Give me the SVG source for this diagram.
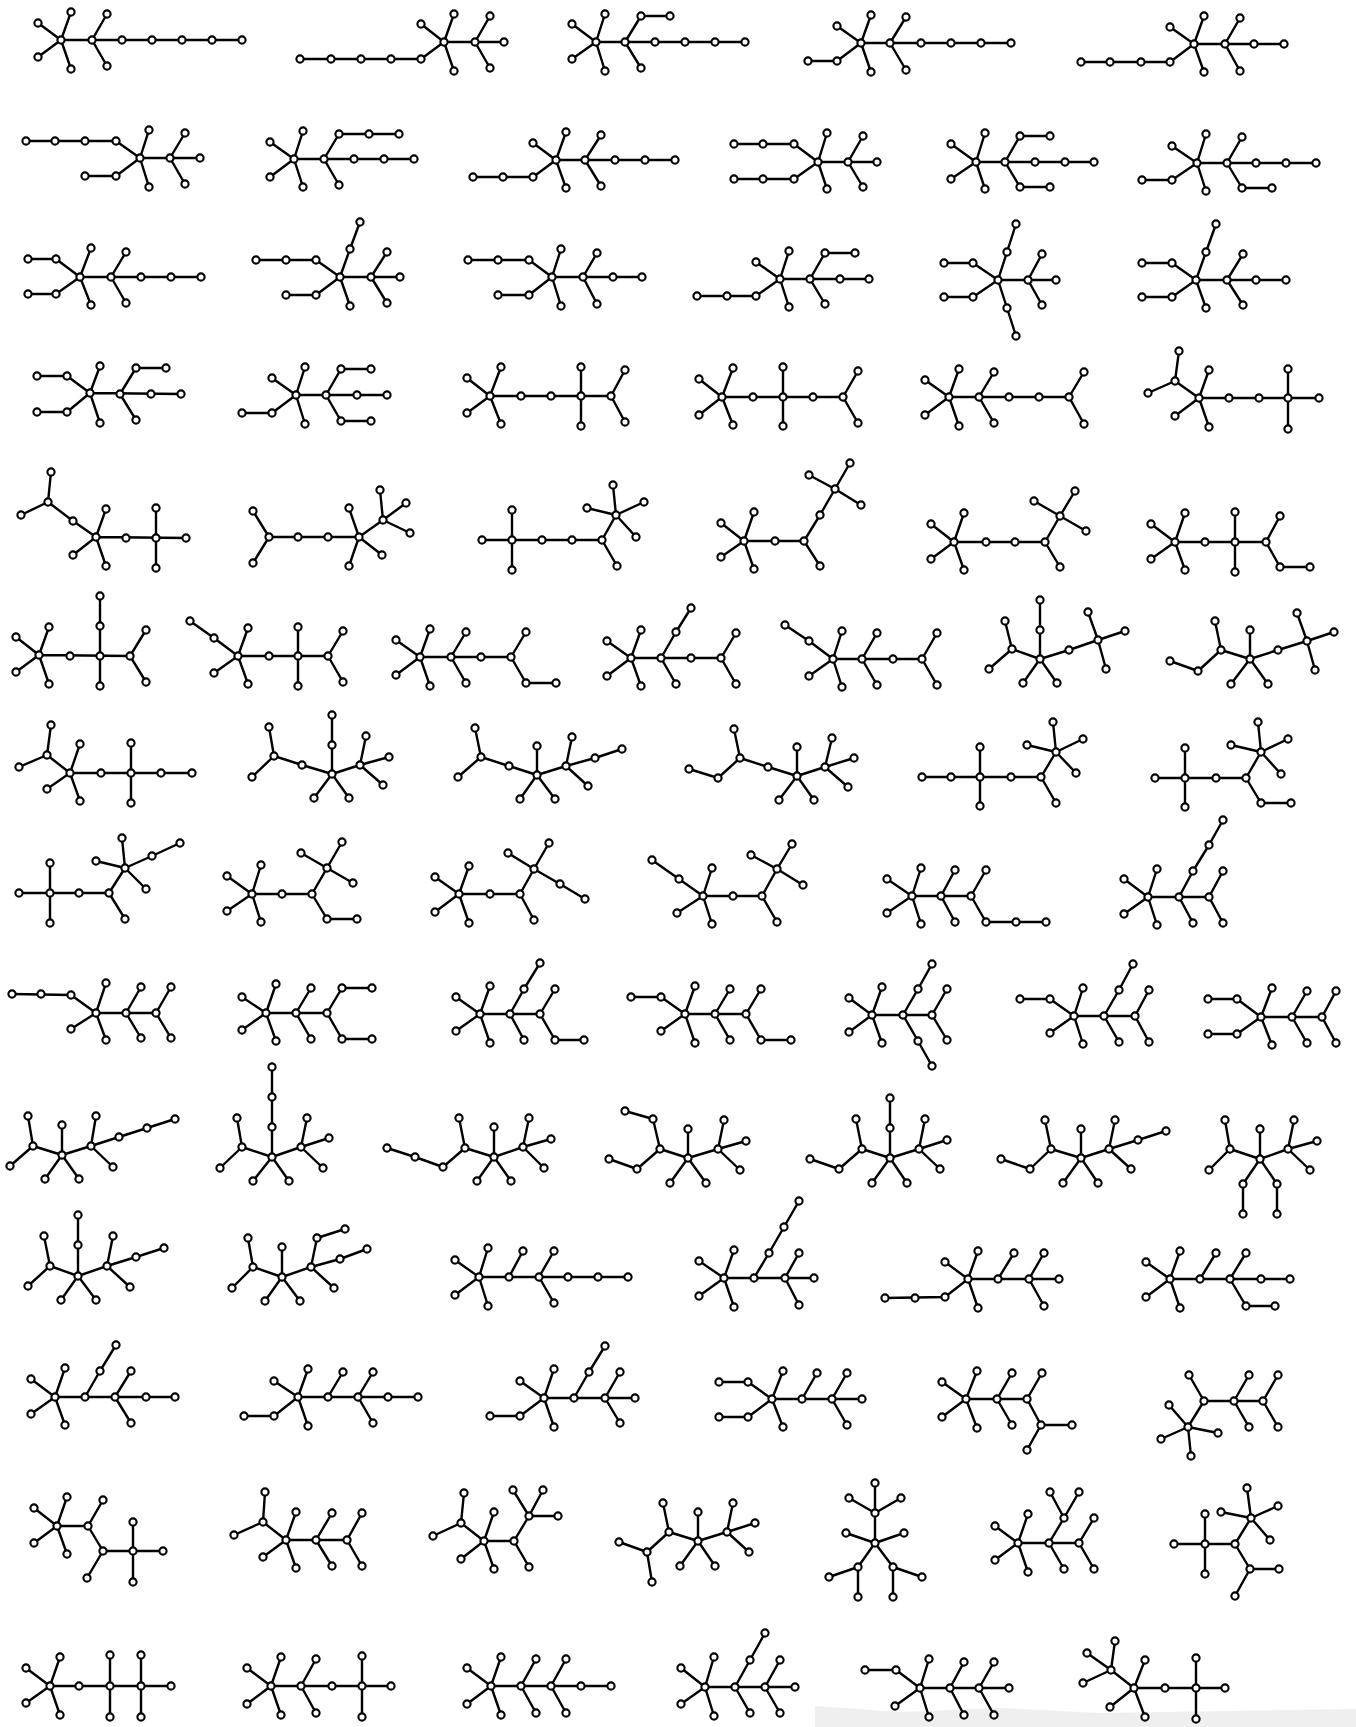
<svg xmlns="http://www.w3.org/2000/svg" width="1356" height="1727" viewBox="0 0 1356 1727">
<style>
.e path{fill:none;stroke:#000;stroke-width:2.4;stroke-linecap:round;stroke-linejoin:round}
.n circle{fill:#fff;stroke:#000;stroke-width:2.1}
</style>
<rect width="1356" height="1727" fill="#fff"/>
<polygon points="815,1706 900,1712 1000,1708 1100,1713 1356,1709 1356,1727 815,1727" fill="#d6d6d6" opacity="0.4"/>
<g id="connectors" class="e">
<path id="e1" d="M71 12 61 40 38 23 M38 57 61 40 71 69 M61 40 242 40 M107 14 92 40 107 66"/>
<path id="e2" d="M300 59 421 59 444 42 M454 14 444 42 454 71 M421 24 444 42 504 42 M490 16 475 42 490 68"/>
<path id="e3" d="M605 14 596 42 605 71 M572 24 596 42 572 59 M596 42 745 42 M670 16 641 16 625 42 641 68"/>
<path id="e4" d="M871 15 861 43 871 72 M837 26 861 43 1011 43 M808 61 837 61 861 43 M906 17 890 43 906 70"/>
<path id="e5" d="M1204 16 1194 44 1204 72 M1170 27 1194 44 1284 44 M1081 62 1170 62 1194 44 M1240 18 1225 44 1240 71"/>
<path id="e6" d="M26 141 116 141 140 158 200 158 M85 176 116 176 140 158 M149 130 140 158 149 187 M185 133 170 158 185 184"/>
<path id="e7" d="M303 131 294 159 303 187 M270 142 294 159 270 177 M294 159 414 159 M399 134 339 134 324 159 339 185"/>
<path id="e8" d="M566 132 556 160 566 188 M533 143 556 160 675 160 M473 177 533 177 556 160 M601 135 585 160 601 186"/>
<path id="e9" d="M734 144 794 144 818 162 877 162 M734 179 794 179 818 162 M827 133 818 162 827 189 M863 136 848 162 863 187"/>
<path id="e10" d="M985 133 976 162 985 189 M951 144 976 162 951 179 M976 162 1094 162 M1050 136 1020 136 1005 162 1020 187 1050 187"/>
<path id="e11" d="M1206 134 1197 163 1206 191 M1172 146 1197 163 1316 163 M1142 180 1172 180 1197 163 M1242 137 1227 163 1242 188 1272 188"/>
<path id="e12" d="M28 259 56 259 80 277 201 277 M28 294 56 294 80 277 M91 248 80 277 91 305 M126 252 111 277 126 303"/>
<path id="e13" d="M256 260 316 260 340 277 400 277 M286 295 316 295 340 277 350 306 M340 277 350 249 360 222 M387 252 371 277 387 303"/>
<path id="e14" d="M468 260 529 260 552 277 642 277 M498 295 529 295 552 277 M561 249 552 277 561 306 M597 253 583 277 597 304"/>
<path id="e15" d="M789 251 780 279 789 307 M756 262 780 279 869 279 M697 296 756 296 780 279 M855 253 825 253 810 279 825 304"/>
<path id="e16" d="M944 263 973 263 998 280 1056 280 M944 297 973 297 998 280 M1016 224 1007 252 998 280 1007 308 1016 336 M1042 254 1028 280 1042 305"/>
<path id="e17" d="M1142 263 1172 263 1196 280 1286 280 M1142 297 1172 297 1196 280 1206 308 M1196 280 1206 252 1216 224 M1243 254 1227 280 1243 305"/>
<path id="e18" d="M37 376 67 376 90 393 181 394 M37 412 67 412 90 393 M100 366 90 393 100 423 M166 368 136 368 120 394 136 420"/>
<path id="e19" d="M305 367 296 395 305 424 M272 378 296 395 387 395 M242 413 272 413 296 395 M371 369 341 369 326 395 341 421 371 421"/>
<path id="e20" d="M501 367 490 396 501 424 M467 378 490 396 467 413 M490 396 611 396 M581 367 581 426 M625 370 611 396 625 422"/>
<path id="e21" d="M733 368 722 397 733 425 M699 379 722 397 699 415 M722 397 843 397 M783 367 783 426 M858 371 843 397 858 423"/>
<path id="e22" d="M959 369 949 397 959 426 M925 380 949 397 925 415 M949 397 1069 397 M994 372 979 397 994 423 M1084 372 1069 397 1084 424"/>
<path id="e23" d="M1209 370 1199 398 1209 427 M1175 416 1199 398 1319 398 M1179 351 1175 381 1199 398 M1148 393 1175 381 M1288 369 1288 429"/>
<path id="e24" d="M51 472 48 502 21 515 M48 502 73 521 96 537 186 538 M106 509 96 537 106 566 M73 555 96 537 M156 508 156 568"/>
<path id="e25" d="M253 511 269 537 253 563 M269 537 359 537 349 508 M349 566 359 537 382 555 M359 537 383 520 380 490 M406 503 383 520 410 533"/>
<path id="e26" d="M482 540 602 540 617 566 M512 510 512 570 M602 540 616 515 613 485 M587 508 616 515 644 502 M616 515 636 537"/>
<path id="e27" d="M754 512 744 541 754 569 M721 523 744 541 721 557 M744 541 804 541 820 566 M804 541 820 515 835 489 809 475 M850 463 835 489 861 505"/>
<path id="e28" d="M964 513 954 542 964 570 M931 524 954 542 931 559 M954 542 1045 542 1060 567 M1045 542 1060 516 1034 501 M1075 491 1060 516 1086 531"/>
<path id="e29" d="M1185 513 1175 542 1185 570 M1151 524 1175 542 1151 559 M1175 542 1266 542 1280 516 M1235 512 1235 572 M1266 542 1280 567 1310 567"/>
<path id="e30" d="M49 627 39 655 49 684 M16 637 39 655 16 672 M39 655 130 656 M100 596 100 686 M146 630 130 656 146 682"/>
<path id="e31" d="M248 628 238 656 248 684 M214 673 238 656 214 638 190 621 M238 656 328 656 M298 627 298 686 M343 631 328 656 343 682"/>
<path id="e32" d="M430 629 420 657 430 686 M396 640 420 657 396 675 M420 657 511 657 526 632 M466 632 451 657 466 683 M511 657 526 683 556 683"/>
<path id="e33" d="M641 630 631 658 641 686 M607 641 631 658 607 676 M631 658 721 658 M691 608 676 632 661 658 676 684 M736 633 721 658 736 684"/>
<path id="e34" d="M842 631 833 659 842 687 M809 676 833 659 809 641 785 625 M833 659 922 659 M877 633 862 659 877 685 M937 633 922 659 937 685"/>
<path id="e35" d="M1040 600 1040 659 1023 683 M1040 659 1057 683 M1040 659 1012 649 1005 621 M1012 649 989 669 M1040 659 1069 650 1098 640 1088 612 M1125 631 1098 640 1106 669"/>
<path id="e36" d="M1250 630 1250 659 1231 684 M1250 659 1268 684 M1250 659 1221 650 1215 621 M1221 650 1198 671 1170 661 M1250 659 1278 650 1307 641 1297 613 M1334 632 1307 641 1315 670"/>
<path id="e37" d="M80 744 70 773 80 801 M47 789 70 773 47 755 51 725 M19 767 47 755 M70 773 192 773 M131 743 131 803"/>
<path id="e38" d="M332 715 332 774 314 798 M332 774 349 798 M332 774 302 765 274 756 269 727 M252 777 274 756 M332 774 360 765 366 736 M389 757 360 765 383 785"/>
<path id="e39" d="M537 746 537 775 520 799 M537 775 555 799 M537 775 509 766 481 757 475 728 M458 777 481 757 M537 775 566 766 572 737 M566 766 588 786 M566 766 595 758 622 749"/>
<path id="e40" d="M689 769 718 778 740 758 734 729 M740 758 768 767 797 776 797 747 M779 800 797 776 814 800 M797 776 825 767 832 738 M854 758 825 767 848 787"/>
<path id="e41" d="M922 777 1041 777 1056 803 M980 747 980 806 M1041 777 1056 752 1053 722 M1027 745 1056 752 1083 739 M1056 752 1076 773"/>
<path id="e42" d="M1155 778 1246 778 1261 803 1291 803 M1185 748 1185 807 M1246 778 1261 752 1258 722 M1231 745 1261 752 1288 739 M1261 752 1281 774"/>
<path id="e43" d="M19 893 109 893 125 919 M50 863 50 923 M109 893 125 868 122 838 M96 861 125 868 146 889 M125 868 152 856 180 843"/>
<path id="e44" d="M261 865 252 894 261 922 M227 876 252 894 227 911 M252 894 312 894 327 919 357 919 M312 894 327 868 342 842 M301 853 327 868 353 883"/>
<path id="e45" d="M469 866 459 894 469 923 M435 877 459 894 435 912 M459 894 520 894 534 920 M520 894 534 869 549 843 M508 853 534 869 560 884 585 899"/>
<path id="e46" d="M712 868 703 896 712 924 M677 913 703 896 679 879 652 860 M703 896 762 896 777 922 M762 896 777 869 792 844 M751 855 777 869 803 885"/>
<path id="e47" d="M921 868 912 896 921 924 M887 879 912 896 887 913 M912 896 971 896 986 870 M955 870 941 896 955 922 M971 896 986 922 1046 922"/>
<path id="e48" d="M1157 869 1148 897 1157 925 M1124 879 1148 897 1124 914 M1148 897 1209 897 1223 871 M1209 897 1223 923 M1223 820 1209 845 1193 871 1179 897 1193 923"/>
<path id="e49" d="M12 994 71 995 96 1013 156 1013 M106 983 96 1013 106 1040 M71 1029 96 1013 M141 987 126 1013 141 1038 M171 987 156 1013 171 1038"/>
<path id="e50" d="M276 984 266 1013 276 1041 M242 997 266 1013 242 1030 M266 1013 327 1013 M311 988 296 1013 311 1039 M372 988 342 988 327 1013 342 1039 372 1039"/>
<path id="e51" d="M490 986 480 1014 490 1043 M456 997 480 1014 456 1031 M480 1014 540 1014 555 989 M540 963 524 989 510 1014 524 1040 M540 1014 555 1040 584 1040"/>
<path id="e52" d="M631 997 661 997 685 1014 746 1014 761 989 M695 986 685 1014 695 1043 M661 1031 685 1014 M730 989 715 1014 730 1040 M746 1014 761 1040 791 1040"/>
<path id="e53" d="M882 987 872 1015 882 1043 M849 998 872 1015 849 1032 M872 1015 932 1015 M932 964 918 989 903 1015 918 1041 932 1066 M947 989 932 1015 947 1040"/>
<path id="e54" d="M1020 999 1050 999 1074 1016 1135 1016 M1083 988 1074 1016 1083 1044 M1050 1033 1074 1016 M1133 964 1119 990 1104 1016 1119 1042 M1149 990 1135 1016 1149 1042"/>
<path id="e55" d="M1208 999 1237 999 1261 1017 1322 1017 M1208 1034 1237 1034 1261 1017 M1272 988 1261 1017 1272 1045 M1307 991 1292 1017 1307 1043 M1336 991 1322 1017 1336 1043"/>
<path id="e56" d="M62 1125 62 1155 45 1179 M62 1155 79 1179 M10 1166 33 1146 28 1116 M33 1146 62 1155 91 1146 96 1116 M91 1146 113 1167 M91 1146 119 1137 147 1128 175 1119"/>
<path id="e57" d="M272 1067 272 1157 253 1181 M272 1157 289 1181 M220 1168 242 1147 237 1118 M242 1147 272 1157 301 1147 307 1118 M329 1138 301 1147 323 1168"/>
<path id="e58" d="M387 1148 415 1157 443 1167 465 1148 459 1118 M465 1148 494 1157 523 1147 529 1118 M494 1127 494 1157 477 1181 M494 1157 511 1181 M551 1139 523 1147 544 1168"/>
<path id="e59" d="M625 1111 653 1119 660 1149 637 1169 609 1159 M660 1149 688 1158 718 1149 724 1120 M688 1129 688 1158 670 1183 M688 1158 706 1183 M746 1141 718 1149 740 1170"/>
<path id="e60" d="M890 1098 890 1158 872 1183 M890 1158 907 1183 M810 1159 839 1169 862 1149 856 1119 M862 1149 890 1158 919 1149 925 1119 M947 1140 919 1149 940 1169"/>
<path id="e61" d="M1081 1129 1081 1158 1063 1183 M1081 1158 1098 1183 M1001 1159 1030 1169 1051 1149 1045 1120 M1051 1149 1081 1158 1109 1149 1115 1120 M1109 1149 1131 1169 M1109 1149 1138 1140 1166 1131"/>
<path id="e62" d="M1260 1129 1260 1159 1243 1184 1243 1214 M1260 1159 1277 1184 1277 1214 M1209 1170 1230 1149 1225 1120 M1230 1149 1260 1159 1288 1149 1294 1120 M1317 1141 1288 1149 1310 1170"/>
<path id="e63" d="M78 1215 78 1276 61 1300 M78 1276 96 1300 M28 1286 50 1266 44 1236 M50 1266 78 1276 107 1266 113 1236 M107 1266 130 1287 M107 1266 136 1257 164 1248"/>
<path id="e64" d="M282 1247 282 1277 265 1301 M282 1277 300 1301 M232 1288 253 1267 248 1238 M253 1267 282 1277 311 1267 317 1238 345 1229 M311 1267 340 1259 367 1249 M311 1267 334 1288"/>
<path id="e65" d="M488 1248 479 1277 488 1306 M455 1260 479 1277 455 1295 M479 1277 628 1277 M509 1277 523 1251 M554 1251 539 1277 554 1303"/>
<path id="e66" d="M734 1250 724 1278 734 1307 M699 1261 724 1278 699 1296 M724 1278 814 1278 M754 1278 769 1253 784 1227 799 1201 M799 1253 785 1278 799 1305"/>
<path id="e67" d="M885 1298 945 1297 968 1279 1059 1279 M978 1251 968 1279 978 1308 M945 1262 968 1279 M998 1279 1014 1253 M1044 1253 1029 1279 1044 1306"/>
<path id="e68" d="M1180 1251 1170 1279 1180 1308 M1146 1262 1170 1279 1146 1297 M1170 1279 1290 1279 M1200 1279 1216 1253 M1246 1253 1230 1279 1246 1306 1275 1306"/>
<path id="e69" d="M65 1368 55 1397 65 1425 M31 1379 55 1397 31 1414 M55 1397 175 1397 M85 1397 100 1371 116 1345 M131 1371 115 1397 131 1423"/>
<path id="e70" d="M244 1416 274 1416 298 1397 418 1397 M308 1369 298 1397 308 1426 M274 1381 298 1397 M328 1397 343 1372 M373 1372 358 1397 373 1423"/>
<path id="e71" d="M490 1416 520 1416 544 1398 635 1398 M554 1369 544 1398 554 1427 M520 1381 544 1398 M574 1398 589 1372 605 1346 M620 1372 605 1398 620 1423"/>
<path id="e72" d="M719 1382 748 1382 772 1399 862 1399 M719 1417 748 1417 772 1399 M783 1371 772 1399 783 1427 M802 1399 817 1373 M847 1373 832 1399 847 1425"/>
<path id="e73" d="M977 1371 966 1399 977 1428 M942 1382 966 1399 942 1417 M966 1399 1027 1399 1042 1373 M1012 1373 997 1399 1012 1425 M1027 1399 1041 1425 1072 1425 M1041 1425 1027 1450"/>
<path id="e74" d="M1169 1405 1188 1427 1191 1456 M1161 1439 1188 1427 1218 1433 M1188 1427 1204 1401 1189 1375 M1204 1401 1263 1401 M1249 1375 1234 1401 1249 1427 M1278 1375 1263 1401 1278 1427"/>
<path id="e75" d="M67 1497 57 1526 67 1554 M34 1508 57 1526 34 1543 M57 1526 88 1526 103 1500 M88 1526 103 1551 163 1551 M103 1551 87 1578 M133 1522 133 1582"/>
<path id="e76" d="M265 1492 263 1522 234 1535 M263 1522 286 1540 347 1540 M296 1512 286 1540 296 1568 M263 1557 286 1540 M332 1513 316 1540 332 1566 M362 1513 347 1540 362 1566"/>
<path id="e77" d="M464 1493 461 1523 433 1536 M461 1523 484 1541 514 1541 529 1567 M494 1512 484 1541 494 1569 M461 1559 484 1541 M514 1541 529 1516 513 1490 M543 1490 529 1516 558 1516"/>
<path id="e78" d="M619 1542 647 1552 652 1582 M647 1552 669 1532 663 1503 M669 1532 698 1541 727 1532 733 1503 M698 1512 698 1541 680 1566 M698 1541 715 1566 M755 1523 727 1532 749 1552"/>
<path id="e79" d="M875 1483 875 1543 M849 1498 875 1513 901 1498 M846 1533 875 1543 904 1533 M829 1577 858 1567 875 1543 893 1567 922 1577 M858 1567 858 1597 M893 1567 893 1597"/>
<path id="e80" d="M1028 1514 1018 1543 1028 1572 M995 1526 1018 1543 995 1560 M1018 1543 1079 1543 M1049 1543 1064 1569 M1049 1543 1064 1518 1050 1492 M1064 1518 1079 1492 M1094 1518 1079 1543 1094 1569"/>
<path id="e81" d="M1174 1544 1235 1544 1251 1518 1247 1488 M1205 1514 1205 1574 M1221 1512 1251 1518 1278 1506 M1251 1518 1270 1540 M1235 1544 1250 1569 1279 1569 M1250 1569 1235 1596"/>
<path id="e82" d="M60 1657 50 1686 60 1715 M26 1668 50 1686 26 1703 M50 1686 171 1686 M110 1655 110 1717 M141 1655 141 1717"/>
<path id="e83" d="M281 1657 271 1686 281 1715 M247 1668 271 1686 247 1704 M271 1686 391 1686 M316 1659 301 1686 316 1713 M362 1656 362 1717"/>
<path id="e84" d="M501 1657 491 1686 501 1715 M467 1668 491 1686 467 1704 M491 1686 611 1686 M536 1659 521 1686 536 1713 M566 1659 551 1686 566 1713"/>
<path id="e85" d="M714 1657 705 1687 714 1716 M681 1668 705 1687 681 1704 M705 1687 795 1687 M765 1633 750 1660 735 1687 750 1713 M780 1660 765 1687 780 1713"/>
<path id="e86" d="M865 1670 896 1670 920 1688 1009 1688 M929 1659 920 1688 929 1717 M895 1706 920 1688 M964 1662 950 1688 964 1715 M994 1662 979 1688 994 1715"/>
<path id="e87" d="M1115 1641 1111 1670 1087 1653 M1083 1683 1111 1670 1134 1688 1225 1688 M1145 1660 1134 1688 1145 1717 M1110 1707 1134 1688 M1196 1658 1196 1719"/>
</g>
<g id="nodes" class="n">
<g id="t1"><circle cx="61" cy="40" r="3.6"/><circle cx="92" cy="40" r="3.6"/><circle cx="71" cy="12" r="3.6"/><circle cx="38" cy="23" r="3.6"/><circle cx="38" cy="57" r="3.6"/><circle cx="71" cy="69" r="3.6"/><circle cx="107" cy="14" r="3.6"/><circle cx="107" cy="66" r="3.6"/><circle cx="122" cy="40" r="3.6"/><circle cx="152" cy="40" r="3.6"/><circle cx="182" cy="40" r="3.6"/><circle cx="212" cy="40" r="3.6"/><circle cx="242" cy="40" r="3.6"/></g>
<g id="t2"><circle cx="300" cy="59" r="3.6"/><circle cx="331" cy="59" r="3.6"/><circle cx="361" cy="59" r="3.6"/><circle cx="391" cy="59" r="3.6"/><circle cx="421" cy="59" r="3.6"/><circle cx="444" cy="42" r="3.6"/><circle cx="454" cy="14" r="3.6"/><circle cx="421" cy="24" r="3.6"/><circle cx="454" cy="71" r="3.6"/><circle cx="475" cy="42" r="3.6"/><circle cx="490" cy="16" r="3.6"/><circle cx="504" cy="42" r="3.6"/><circle cx="490" cy="68" r="3.6"/></g>
<g id="t3"><circle cx="596" cy="42" r="3.6"/><circle cx="605" cy="14" r="3.6"/><circle cx="572" cy="24" r="3.6"/><circle cx="572" cy="59" r="3.6"/><circle cx="605" cy="71" r="3.6"/><circle cx="625" cy="42" r="3.6"/><circle cx="641" cy="16" r="3.6"/><circle cx="670" cy="16" r="3.6"/><circle cx="641" cy="68" r="3.6"/><circle cx="655" cy="42" r="3.6"/><circle cx="685" cy="42" r="3.6"/><circle cx="715" cy="42" r="3.6"/><circle cx="745" cy="42" r="3.6"/></g>
<g id="t4"><circle cx="861" cy="43" r="3.6"/><circle cx="871" cy="15" r="3.6"/><circle cx="837" cy="26" r="3.6"/><circle cx="871" cy="72" r="3.6"/><circle cx="837" cy="61" r="3.6"/><circle cx="808" cy="61" r="3.6"/><circle cx="890" cy="43" r="3.6"/><circle cx="906" cy="17" r="3.6"/><circle cx="906" cy="70" r="3.6"/><circle cx="921" cy="43" r="3.6"/><circle cx="951" cy="43" r="3.6"/><circle cx="981" cy="43" r="3.6"/><circle cx="1011" cy="43" r="3.6"/></g>
<g id="t5"><circle cx="1194" cy="44" r="3.6"/><circle cx="1204" cy="16" r="3.6"/><circle cx="1170" cy="27" r="3.6"/><circle cx="1204" cy="72" r="3.6"/><circle cx="1170" cy="62" r="3.6"/><circle cx="1141" cy="62" r="3.6"/><circle cx="1110" cy="62" r="3.6"/><circle cx="1081" cy="62" r="3.6"/><circle cx="1225" cy="44" r="3.6"/><circle cx="1240" cy="18" r="3.6"/><circle cx="1240" cy="71" r="3.6"/><circle cx="1254" cy="44" r="3.6"/><circle cx="1284" cy="44" r="3.6"/></g>
<g id="t6"><circle cx="26" cy="141" r="3.6"/><circle cx="55" cy="141" r="3.6"/><circle cx="85" cy="141" r="3.6"/><circle cx="116" cy="141" r="3.6"/><circle cx="140" cy="158" r="3.6"/><circle cx="149" cy="130" r="3.6"/><circle cx="149" cy="187" r="3.6"/><circle cx="116" cy="176" r="3.6"/><circle cx="85" cy="176" r="3.6"/><circle cx="170" cy="158" r="3.6"/><circle cx="185" cy="133" r="3.6"/><circle cx="200" cy="158" r="3.6"/><circle cx="185" cy="184" r="3.6"/></g>
<g id="t7"><circle cx="294" cy="159" r="3.6"/><circle cx="303" cy="131" r="3.6"/><circle cx="270" cy="142" r="3.6"/><circle cx="270" cy="177" r="3.6"/><circle cx="303" cy="187" r="3.6"/><circle cx="324" cy="159" r="3.6"/><circle cx="339" cy="134" r="3.6"/><circle cx="369" cy="134" r="3.6"/><circle cx="399" cy="134" r="3.6"/><circle cx="354" cy="159" r="3.6"/><circle cx="384" cy="159" r="3.6"/><circle cx="414" cy="159" r="3.6"/><circle cx="339" cy="185" r="3.6"/></g>
<g id="t8"><circle cx="556" cy="160" r="3.6"/><circle cx="566" cy="132" r="3.6"/><circle cx="533" cy="143" r="3.6"/><circle cx="566" cy="188" r="3.6"/><circle cx="533" cy="177" r="3.6"/><circle cx="503" cy="177" r="3.6"/><circle cx="473" cy="177" r="3.6"/><circle cx="585" cy="160" r="3.6"/><circle cx="601" cy="135" r="3.6"/><circle cx="601" cy="186" r="3.6"/><circle cx="615" cy="160" r="3.6"/><circle cx="645" cy="160" r="3.6"/><circle cx="675" cy="160" r="3.6"/></g>
<g id="t9"><circle cx="818" cy="162" r="3.6"/><circle cx="794" cy="144" r="3.6"/><circle cx="763" cy="144" r="3.6"/><circle cx="734" cy="144" r="3.6"/><circle cx="794" cy="179" r="3.6"/><circle cx="763" cy="179" r="3.6"/><circle cx="734" cy="179" r="3.6"/><circle cx="827" cy="133" r="3.6"/><circle cx="827" cy="189" r="3.6"/><circle cx="848" cy="162" r="3.6"/><circle cx="863" cy="136" r="3.6"/><circle cx="877" cy="162" r="3.6"/><circle cx="863" cy="187" r="3.6"/></g>
<g id="t10"><circle cx="976" cy="162" r="3.6"/><circle cx="985" cy="133" r="3.6"/><circle cx="951" cy="144" r="3.6"/><circle cx="951" cy="179" r="3.6"/><circle cx="985" cy="189" r="3.6"/><circle cx="1005" cy="162" r="3.6"/><circle cx="1020" cy="136" r="3.6"/><circle cx="1050" cy="136" r="3.6"/><circle cx="1035" cy="162" r="3.6"/><circle cx="1065" cy="162" r="3.6"/><circle cx="1094" cy="162" r="3.6"/><circle cx="1020" cy="187" r="3.6"/><circle cx="1050" cy="187" r="3.6"/></g>
<g id="t11"><circle cx="1197" cy="163" r="3.6"/><circle cx="1206" cy="134" r="3.6"/><circle cx="1172" cy="146" r="3.6"/><circle cx="1206" cy="191" r="3.6"/><circle cx="1172" cy="180" r="3.6"/><circle cx="1142" cy="180" r="3.6"/><circle cx="1227" cy="163" r="3.6"/><circle cx="1242" cy="137" r="3.6"/><circle cx="1256" cy="163" r="3.6"/><circle cx="1286" cy="163" r="3.6"/><circle cx="1316" cy="163" r="3.6"/><circle cx="1242" cy="188" r="3.6"/><circle cx="1272" cy="188" r="3.6"/></g>
<g id="t12"><circle cx="80" cy="277" r="3.6"/><circle cx="56" cy="259" r="3.6"/><circle cx="28" cy="259" r="3.6"/><circle cx="56" cy="294" r="3.6"/><circle cx="28" cy="294" r="3.6"/><circle cx="91" cy="248" r="3.6"/><circle cx="91" cy="305" r="3.6"/><circle cx="111" cy="277" r="3.6"/><circle cx="126" cy="252" r="3.6"/><circle cx="126" cy="303" r="3.6"/><circle cx="141" cy="277" r="3.6"/><circle cx="171" cy="277" r="3.6"/><circle cx="201" cy="277" r="3.6"/></g>
<g id="t13"><circle cx="340" cy="277" r="3.6"/><circle cx="316" cy="260" r="3.6"/><circle cx="286" cy="260" r="3.6"/><circle cx="256" cy="260" r="3.6"/><circle cx="316" cy="295" r="3.6"/><circle cx="286" cy="295" r="3.6"/><circle cx="350" cy="249" r="3.6"/><circle cx="360" cy="222" r="3.6"/><circle cx="350" cy="306" r="3.6"/><circle cx="371" cy="277" r="3.6"/><circle cx="387" cy="252" r="3.6"/><circle cx="400" cy="277" r="3.6"/><circle cx="387" cy="303" r="3.6"/></g>
<g id="t14"><circle cx="552" cy="277" r="3.6"/><circle cx="529" cy="260" r="3.6"/><circle cx="498" cy="260" r="3.6"/><circle cx="468" cy="260" r="3.6"/><circle cx="529" cy="295" r="3.6"/><circle cx="498" cy="295" r="3.6"/><circle cx="561" cy="249" r="3.6"/><circle cx="561" cy="306" r="3.6"/><circle cx="583" cy="277" r="3.6"/><circle cx="597" cy="253" r="3.6"/><circle cx="597" cy="304" r="3.6"/><circle cx="613" cy="277" r="3.6"/><circle cx="642" cy="277" r="3.6"/></g>
<g id="t15"><circle cx="780" cy="279" r="3.6"/><circle cx="789" cy="251" r="3.6"/><circle cx="756" cy="262" r="3.6"/><circle cx="789" cy="307" r="3.6"/><circle cx="756" cy="296" r="3.6"/><circle cx="727" cy="296" r="3.6"/><circle cx="697" cy="296" r="3.6"/><circle cx="810" cy="279" r="3.6"/><circle cx="825" cy="253" r="3.6"/><circle cx="855" cy="253" r="3.6"/><circle cx="840" cy="279" r="3.6"/><circle cx="869" cy="279" r="3.6"/><circle cx="825" cy="304" r="3.6"/></g>
<g id="t16"><circle cx="998" cy="280" r="3.6"/><circle cx="973" cy="263" r="3.6"/><circle cx="944" cy="263" r="3.6"/><circle cx="973" cy="297" r="3.6"/><circle cx="944" cy="297" r="3.6"/><circle cx="1007" cy="252" r="3.6"/><circle cx="1016" cy="224" r="3.6"/><circle cx="1007" cy="308" r="3.6"/><circle cx="1016" cy="336" r="3.6"/><circle cx="1028" cy="280" r="3.6"/><circle cx="1042" cy="254" r="3.6"/><circle cx="1056" cy="280" r="3.6"/><circle cx="1042" cy="305" r="3.6"/></g>
<g id="t17"><circle cx="1196" cy="280" r="3.6"/><circle cx="1172" cy="263" r="3.6"/><circle cx="1142" cy="263" r="3.6"/><circle cx="1172" cy="297" r="3.6"/><circle cx="1142" cy="297" r="3.6"/><circle cx="1206" cy="252" r="3.6"/><circle cx="1216" cy="224" r="3.6"/><circle cx="1206" cy="308" r="3.6"/><circle cx="1227" cy="280" r="3.6"/><circle cx="1243" cy="254" r="3.6"/><circle cx="1243" cy="305" r="3.6"/><circle cx="1256" cy="280" r="3.6"/><circle cx="1286" cy="280" r="3.6"/></g>
<g id="t18"><circle cx="90" cy="393" r="3.6"/><circle cx="67" cy="376" r="3.6"/><circle cx="37" cy="376" r="3.6"/><circle cx="67" cy="412" r="3.6"/><circle cx="37" cy="412" r="3.6"/><circle cx="100" cy="366" r="3.6"/><circle cx="100" cy="423" r="3.6"/><circle cx="120" cy="394" r="3.6"/><circle cx="136" cy="368" r="3.6"/><circle cx="166" cy="368" r="3.6"/><circle cx="151" cy="394" r="3.6"/><circle cx="181" cy="394" r="3.6"/><circle cx="136" cy="420" r="3.6"/></g>
<g id="t19"><circle cx="296" cy="395" r="3.6"/><circle cx="305" cy="367" r="3.6"/><circle cx="272" cy="378" r="3.6"/><circle cx="305" cy="424" r="3.6"/><circle cx="272" cy="413" r="3.6"/><circle cx="242" cy="413" r="3.6"/><circle cx="326" cy="395" r="3.6"/><circle cx="341" cy="369" r="3.6"/><circle cx="371" cy="369" r="3.6"/><circle cx="357" cy="395" r="3.6"/><circle cx="387" cy="395" r="3.6"/><circle cx="341" cy="421" r="3.6"/><circle cx="371" cy="421" r="3.6"/></g>
<g id="t20"><circle cx="490" cy="396" r="3.6"/><circle cx="501" cy="367" r="3.6"/><circle cx="467" cy="378" r="3.6"/><circle cx="467" cy="413" r="3.6"/><circle cx="501" cy="424" r="3.6"/><circle cx="521" cy="396" r="3.6"/><circle cx="551" cy="396" r="3.6"/><circle cx="581" cy="396" r="3.6"/><circle cx="581" cy="367" r="3.6"/><circle cx="581" cy="426" r="3.6"/><circle cx="611" cy="396" r="3.6"/><circle cx="625" cy="370" r="3.6"/><circle cx="625" cy="422" r="3.6"/></g>
<g id="t21"><circle cx="722" cy="397" r="3.6"/><circle cx="733" cy="368" r="3.6"/><circle cx="699" cy="379" r="3.6"/><circle cx="699" cy="415" r="3.6"/><circle cx="733" cy="425" r="3.6"/><circle cx="753" cy="397" r="3.6"/><circle cx="783" cy="397" r="3.6"/><circle cx="783" cy="367" r="3.6"/><circle cx="783" cy="426" r="3.6"/><circle cx="813" cy="397" r="3.6"/><circle cx="843" cy="397" r="3.6"/><circle cx="858" cy="371" r="3.6"/><circle cx="858" cy="423" r="3.6"/></g>
<g id="t22"><circle cx="949" cy="397" r="3.6"/><circle cx="959" cy="369" r="3.6"/><circle cx="925" cy="380" r="3.6"/><circle cx="925" cy="415" r="3.6"/><circle cx="959" cy="426" r="3.6"/><circle cx="979" cy="397" r="3.6"/><circle cx="994" cy="372" r="3.6"/><circle cx="994" cy="423" r="3.6"/><circle cx="1009" cy="397" r="3.6"/><circle cx="1039" cy="397" r="3.6"/><circle cx="1069" cy="397" r="3.6"/><circle cx="1084" cy="372" r="3.6"/><circle cx="1084" cy="424" r="3.6"/></g>
<g id="t23"><circle cx="1199" cy="398" r="3.6"/><circle cx="1209" cy="370" r="3.6"/><circle cx="1175" cy="416" r="3.6"/><circle cx="1209" cy="427" r="3.6"/><circle cx="1175" cy="381" r="3.6"/><circle cx="1179" cy="351" r="3.6"/><circle cx="1148" cy="393" r="3.6"/><circle cx="1229" cy="398" r="3.6"/><circle cx="1259" cy="398" r="3.6"/><circle cx="1288" cy="398" r="3.6"/><circle cx="1288" cy="369" r="3.6"/><circle cx="1288" cy="429" r="3.6"/><circle cx="1319" cy="398" r="3.6"/></g>
<g id="t24"><circle cx="51" cy="472" r="3.6"/><circle cx="48" cy="502" r="3.6"/><circle cx="21" cy="515" r="3.6"/><circle cx="73" cy="521" r="3.6"/><circle cx="96" cy="537" r="3.6"/><circle cx="106" cy="509" r="3.6"/><circle cx="73" cy="555" r="3.6"/><circle cx="106" cy="566" r="3.6"/><circle cx="126" cy="538" r="3.6"/><circle cx="156" cy="538" r="3.6"/><circle cx="156" cy="508" r="3.6"/><circle cx="156" cy="568" r="3.6"/><circle cx="186" cy="538" r="3.6"/></g>
<g id="t25"><circle cx="269" cy="537" r="3.6"/><circle cx="253" cy="511" r="3.6"/><circle cx="253" cy="563" r="3.6"/><circle cx="298" cy="537" r="3.6"/><circle cx="328" cy="537" r="3.6"/><circle cx="359" cy="537" r="3.6"/><circle cx="349" cy="508" r="3.6"/><circle cx="349" cy="566" r="3.6"/><circle cx="382" cy="555" r="3.6"/><circle cx="383" cy="520" r="3.6"/><circle cx="380" cy="490" r="3.6"/><circle cx="406" cy="503" r="3.6"/><circle cx="410" cy="533" r="3.6"/></g>
<g id="t26"><circle cx="512" cy="540" r="3.6"/><circle cx="512" cy="510" r="3.6"/><circle cx="512" cy="570" r="3.6"/><circle cx="482" cy="540" r="3.6"/><circle cx="542" cy="540" r="3.6"/><circle cx="572" cy="540" r="3.6"/><circle cx="602" cy="540" r="3.6"/><circle cx="617" cy="566" r="3.6"/><circle cx="616" cy="515" r="3.6"/><circle cx="613" cy="485" r="3.6"/><circle cx="587" cy="508" r="3.6"/><circle cx="644" cy="502" r="3.6"/><circle cx="636" cy="537" r="3.6"/></g>
<g id="t27"><circle cx="744" cy="541" r="3.6"/><circle cx="754" cy="512" r="3.6"/><circle cx="721" cy="523" r="3.6"/><circle cx="721" cy="557" r="3.6"/><circle cx="754" cy="569" r="3.6"/><circle cx="775" cy="541" r="3.6"/><circle cx="804" cy="541" r="3.6"/><circle cx="820" cy="566" r="3.6"/><circle cx="820" cy="515" r="3.6"/><circle cx="835" cy="489" r="3.6"/><circle cx="809" cy="475" r="3.6"/><circle cx="850" cy="463" r="3.6"/><circle cx="861" cy="505" r="3.6"/></g>
<g id="t28"><circle cx="954" cy="542" r="3.6"/><circle cx="964" cy="513" r="3.6"/><circle cx="931" cy="524" r="3.6"/><circle cx="931" cy="559" r="3.6"/><circle cx="964" cy="570" r="3.6"/><circle cx="986" cy="542" r="3.6"/><circle cx="1015" cy="542" r="3.6"/><circle cx="1045" cy="542" r="3.6"/><circle cx="1060" cy="567" r="3.6"/><circle cx="1060" cy="516" r="3.6"/><circle cx="1034" cy="501" r="3.6"/><circle cx="1075" cy="491" r="3.6"/><circle cx="1086" cy="531" r="3.6"/></g>
<g id="t29"><circle cx="1175" cy="542" r="3.6"/><circle cx="1185" cy="513" r="3.6"/><circle cx="1151" cy="524" r="3.6"/><circle cx="1151" cy="559" r="3.6"/><circle cx="1185" cy="570" r="3.6"/><circle cx="1205" cy="542" r="3.6"/><circle cx="1235" cy="542" r="3.6"/><circle cx="1235" cy="512" r="3.6"/><circle cx="1235" cy="572" r="3.6"/><circle cx="1266" cy="542" r="3.6"/><circle cx="1280" cy="516" r="3.6"/><circle cx="1280" cy="567" r="3.6"/><circle cx="1310" cy="567" r="3.6"/></g>
<g id="t30"><circle cx="39" cy="655" r="3.6"/><circle cx="49" cy="627" r="3.6"/><circle cx="16" cy="637" r="3.6"/><circle cx="16" cy="672" r="3.6"/><circle cx="49" cy="684" r="3.6"/><circle cx="70" cy="656" r="3.6"/><circle cx="100" cy="656" r="3.6"/><circle cx="100" cy="626" r="3.6"/><circle cx="100" cy="596" r="3.6"/><circle cx="100" cy="686" r="3.6"/><circle cx="130" cy="656" r="3.6"/><circle cx="146" cy="630" r="3.6"/><circle cx="146" cy="682" r="3.6"/></g>
<g id="t31"><circle cx="238" cy="656" r="3.6"/><circle cx="248" cy="628" r="3.6"/><circle cx="214" cy="673" r="3.6"/><circle cx="248" cy="684" r="3.6"/><circle cx="214" cy="638" r="3.6"/><circle cx="190" cy="621" r="3.6"/><circle cx="269" cy="656" r="3.6"/><circle cx="298" cy="656" r="3.6"/><circle cx="298" cy="627" r="3.6"/><circle cx="298" cy="686" r="3.6"/><circle cx="328" cy="656" r="3.6"/><circle cx="343" cy="631" r="3.6"/><circle cx="343" cy="682" r="3.6"/></g>
<g id="t32"><circle cx="420" cy="657" r="3.6"/><circle cx="430" cy="629" r="3.6"/><circle cx="396" cy="640" r="3.6"/><circle cx="396" cy="675" r="3.6"/><circle cx="430" cy="686" r="3.6"/><circle cx="451" cy="657" r="3.6"/><circle cx="466" cy="632" r="3.6"/><circle cx="466" cy="683" r="3.6"/><circle cx="481" cy="657" r="3.6"/><circle cx="511" cy="657" r="3.6"/><circle cx="526" cy="632" r="3.6"/><circle cx="526" cy="683" r="3.6"/><circle cx="556" cy="683" r="3.6"/></g>
<g id="t33"><circle cx="631" cy="658" r="3.6"/><circle cx="641" cy="630" r="3.6"/><circle cx="607" cy="641" r="3.6"/><circle cx="607" cy="676" r="3.6"/><circle cx="641" cy="686" r="3.6"/><circle cx="661" cy="658" r="3.6"/><circle cx="676" cy="632" r="3.6"/><circle cx="691" cy="608" r="3.6"/><circle cx="676" cy="684" r="3.6"/><circle cx="691" cy="658" r="3.6"/><circle cx="721" cy="658" r="3.6"/><circle cx="736" cy="633" r="3.6"/><circle cx="736" cy="684" r="3.6"/></g>
<g id="t34"><circle cx="833" cy="659" r="3.6"/><circle cx="842" cy="631" r="3.6"/><circle cx="809" cy="676" r="3.6"/><circle cx="842" cy="687" r="3.6"/><circle cx="809" cy="641" r="3.6"/><circle cx="785" cy="625" r="3.6"/><circle cx="862" cy="659" r="3.6"/><circle cx="877" cy="633" r="3.6"/><circle cx="877" cy="685" r="3.6"/><circle cx="893" cy="659" r="3.6"/><circle cx="922" cy="659" r="3.6"/><circle cx="937" cy="633" r="3.6"/><circle cx="937" cy="685" r="3.6"/></g>
<g id="t35"><circle cx="1040" cy="659" r="3.6"/><circle cx="1040" cy="630" r="3.6"/><circle cx="1040" cy="600" r="3.6"/><circle cx="1023" cy="683" r="3.6"/><circle cx="1057" cy="683" r="3.6"/><circle cx="1012" cy="649" r="3.6"/><circle cx="1005" cy="621" r="3.6"/><circle cx="989" cy="669" r="3.6"/><circle cx="1069" cy="650" r="3.6"/><circle cx="1098" cy="640" r="3.6"/><circle cx="1088" cy="612" r="3.6"/><circle cx="1125" cy="631" r="3.6"/><circle cx="1106" cy="669" r="3.6"/></g>
<g id="t36"><circle cx="1250" cy="659" r="3.6"/><circle cx="1250" cy="630" r="3.6"/><circle cx="1231" cy="684" r="3.6"/><circle cx="1268" cy="684" r="3.6"/><circle cx="1221" cy="650" r="3.6"/><circle cx="1215" cy="621" r="3.6"/><circle cx="1198" cy="671" r="3.6"/><circle cx="1170" cy="661" r="3.6"/><circle cx="1278" cy="650" r="3.6"/><circle cx="1307" cy="641" r="3.6"/><circle cx="1297" cy="613" r="3.6"/><circle cx="1334" cy="632" r="3.6"/><circle cx="1315" cy="670" r="3.6"/></g>
<g id="t37"><circle cx="70" cy="773" r="3.6"/><circle cx="80" cy="744" r="3.6"/><circle cx="47" cy="789" r="3.6"/><circle cx="80" cy="801" r="3.6"/><circle cx="47" cy="755" r="3.6"/><circle cx="51" cy="725" r="3.6"/><circle cx="19" cy="767" r="3.6"/><circle cx="101" cy="773" r="3.6"/><circle cx="131" cy="773" r="3.6"/><circle cx="131" cy="743" r="3.6"/><circle cx="131" cy="803" r="3.6"/><circle cx="161" cy="773" r="3.6"/><circle cx="192" cy="773" r="3.6"/></g>
<g id="t38"><circle cx="332" cy="774" r="3.6"/><circle cx="332" cy="745" r="3.6"/><circle cx="332" cy="715" r="3.6"/><circle cx="314" cy="798" r="3.6"/><circle cx="349" cy="798" r="3.6"/><circle cx="302" cy="765" r="3.6"/><circle cx="274" cy="756" r="3.6"/><circle cx="269" cy="727" r="3.6"/><circle cx="252" cy="777" r="3.6"/><circle cx="360" cy="765" r="3.6"/><circle cx="366" cy="736" r="3.6"/><circle cx="389" cy="757" r="3.6"/><circle cx="383" cy="785" r="3.6"/></g>
<g id="t39"><circle cx="537" cy="775" r="3.6"/><circle cx="537" cy="746" r="3.6"/><circle cx="520" cy="799" r="3.6"/><circle cx="555" cy="799" r="3.6"/><circle cx="509" cy="766" r="3.6"/><circle cx="481" cy="757" r="3.6"/><circle cx="475" cy="728" r="3.6"/><circle cx="458" cy="777" r="3.6"/><circle cx="566" cy="766" r="3.6"/><circle cx="572" cy="737" r="3.6"/><circle cx="588" cy="786" r="3.6"/><circle cx="595" cy="758" r="3.6"/><circle cx="622" cy="749" r="3.6"/></g>
<g id="t40"><circle cx="689" cy="769" r="3.6"/><circle cx="718" cy="778" r="3.6"/><circle cx="740" cy="758" r="3.6"/><circle cx="734" cy="729" r="3.6"/><circle cx="768" cy="767" r="3.6"/><circle cx="797" cy="776" r="3.6"/><circle cx="797" cy="747" r="3.6"/><circle cx="779" cy="800" r="3.6"/><circle cx="814" cy="800" r="3.6"/><circle cx="825" cy="767" r="3.6"/><circle cx="832" cy="738" r="3.6"/><circle cx="854" cy="758" r="3.6"/><circle cx="848" cy="787" r="3.6"/></g>
<g id="t41"><circle cx="922" cy="777" r="3.6"/><circle cx="951" cy="777" r="3.6"/><circle cx="980" cy="777" r="3.6"/><circle cx="980" cy="747" r="3.6"/><circle cx="980" cy="806" r="3.6"/><circle cx="1011" cy="777" r="3.6"/><circle cx="1041" cy="777" r="3.6"/><circle cx="1056" cy="803" r="3.6"/><circle cx="1056" cy="752" r="3.6"/><circle cx="1053" cy="722" r="3.6"/><circle cx="1027" cy="745" r="3.6"/><circle cx="1083" cy="739" r="3.6"/><circle cx="1076" cy="773" r="3.6"/></g>
<g id="t42"><circle cx="1185" cy="778" r="3.6"/><circle cx="1155" cy="778" r="3.6"/><circle cx="1185" cy="748" r="3.6"/><circle cx="1185" cy="807" r="3.6"/><circle cx="1216" cy="778" r="3.6"/><circle cx="1246" cy="778" r="3.6"/><circle cx="1261" cy="803" r="3.6"/><circle cx="1291" cy="803" r="3.6"/><circle cx="1261" cy="752" r="3.6"/><circle cx="1258" cy="722" r="3.6"/><circle cx="1231" cy="745" r="3.6"/><circle cx="1288" cy="739" r="3.6"/><circle cx="1281" cy="774" r="3.6"/></g>
<g id="t43"><circle cx="50" cy="893" r="3.6"/><circle cx="19" cy="893" r="3.6"/><circle cx="50" cy="863" r="3.6"/><circle cx="50" cy="923" r="3.6"/><circle cx="79" cy="893" r="3.6"/><circle cx="109" cy="893" r="3.6"/><circle cx="125" cy="919" r="3.6"/><circle cx="125" cy="868" r="3.6"/><circle cx="122" cy="838" r="3.6"/><circle cx="96" cy="861" r="3.6"/><circle cx="146" cy="889" r="3.6"/><circle cx="152" cy="856" r="3.6"/><circle cx="180" cy="843" r="3.6"/></g>
<g id="t44"><circle cx="252" cy="894" r="3.6"/><circle cx="261" cy="865" r="3.6"/><circle cx="227" cy="876" r="3.6"/><circle cx="227" cy="911" r="3.6"/><circle cx="261" cy="922" r="3.6"/><circle cx="282" cy="894" r="3.6"/><circle cx="312" cy="894" r="3.6"/><circle cx="327" cy="919" r="3.6"/><circle cx="357" cy="919" r="3.6"/><circle cx="327" cy="868" r="3.6"/><circle cx="342" cy="842" r="3.6"/><circle cx="301" cy="853" r="3.6"/><circle cx="353" cy="883" r="3.6"/></g>
<g id="t45"><circle cx="459" cy="894" r="3.6"/><circle cx="469" cy="866" r="3.6"/><circle cx="435" cy="877" r="3.6"/><circle cx="435" cy="912" r="3.6"/><circle cx="469" cy="923" r="3.6"/><circle cx="490" cy="894" r="3.6"/><circle cx="520" cy="894" r="3.6"/><circle cx="534" cy="920" r="3.6"/><circle cx="534" cy="869" r="3.6"/><circle cx="549" cy="843" r="3.6"/><circle cx="508" cy="853" r="3.6"/><circle cx="560" cy="884" r="3.6"/><circle cx="585" cy="899" r="3.6"/></g>
<g id="t46"><circle cx="703" cy="896" r="3.6"/><circle cx="712" cy="868" r="3.6"/><circle cx="677" cy="913" r="3.6"/><circle cx="712" cy="924" r="3.6"/><circle cx="679" cy="879" r="3.6"/><circle cx="652" cy="860" r="3.6"/><circle cx="733" cy="896" r="3.6"/><circle cx="762" cy="896" r="3.6"/><circle cx="777" cy="922" r="3.6"/><circle cx="777" cy="869" r="3.6"/><circle cx="792" cy="844" r="3.6"/><circle cx="751" cy="855" r="3.6"/><circle cx="803" cy="885" r="3.6"/></g>
<g id="t47"><circle cx="912" cy="896" r="3.6"/><circle cx="921" cy="868" r="3.6"/><circle cx="887" cy="879" r="3.6"/><circle cx="887" cy="913" r="3.6"/><circle cx="921" cy="924" r="3.6"/><circle cx="941" cy="896" r="3.6"/><circle cx="955" cy="870" r="3.6"/><circle cx="955" cy="922" r="3.6"/><circle cx="971" cy="896" r="3.6"/><circle cx="986" cy="870" r="3.6"/><circle cx="986" cy="922" r="3.6"/><circle cx="1016" cy="922" r="3.6"/><circle cx="1046" cy="922" r="3.6"/></g>
<g id="t48"><circle cx="1148" cy="897" r="3.6"/><circle cx="1157" cy="869" r="3.6"/><circle cx="1124" cy="879" r="3.6"/><circle cx="1124" cy="914" r="3.6"/><circle cx="1157" cy="925" r="3.6"/><circle cx="1179" cy="897" r="3.6"/><circle cx="1193" cy="871" r="3.6"/><circle cx="1209" cy="845" r="3.6"/><circle cx="1223" cy="820" r="3.6"/><circle cx="1193" cy="923" r="3.6"/><circle cx="1209" cy="897" r="3.6"/><circle cx="1223" cy="871" r="3.6"/><circle cx="1223" cy="923" r="3.6"/></g>
<g id="t49"><circle cx="12" cy="994" r="3.6"/><circle cx="41" cy="994" r="3.6"/><circle cx="71" cy="995" r="3.6"/><circle cx="96" cy="1013" r="3.6"/><circle cx="106" cy="983" r="3.6"/><circle cx="71" cy="1029" r="3.6"/><circle cx="106" cy="1040" r="3.6"/><circle cx="126" cy="1013" r="3.6"/><circle cx="141" cy="987" r="3.6"/><circle cx="141" cy="1038" r="3.6"/><circle cx="156" cy="1013" r="3.6"/><circle cx="171" cy="987" r="3.6"/><circle cx="171" cy="1038" r="3.6"/></g>
<g id="t50"><circle cx="266" cy="1013" r="3.6"/><circle cx="276" cy="984" r="3.6"/><circle cx="242" cy="997" r="3.6"/><circle cx="242" cy="1030" r="3.6"/><circle cx="276" cy="1041" r="3.6"/><circle cx="296" cy="1013" r="3.6"/><circle cx="311" cy="988" r="3.6"/><circle cx="311" cy="1039" r="3.6"/><circle cx="327" cy="1013" r="3.6"/><circle cx="342" cy="988" r="3.6"/><circle cx="372" cy="988" r="3.6"/><circle cx="342" cy="1039" r="3.6"/><circle cx="372" cy="1039" r="3.6"/></g>
<g id="t51"><circle cx="480" cy="1014" r="3.6"/><circle cx="490" cy="986" r="3.6"/><circle cx="456" cy="997" r="3.6"/><circle cx="456" cy="1031" r="3.6"/><circle cx="490" cy="1043" r="3.6"/><circle cx="510" cy="1014" r="3.6"/><circle cx="524" cy="989" r="3.6"/><circle cx="540" cy="963" r="3.6"/><circle cx="524" cy="1040" r="3.6"/><circle cx="540" cy="1014" r="3.6"/><circle cx="555" cy="989" r="3.6"/><circle cx="555" cy="1040" r="3.6"/><circle cx="584" cy="1040" r="3.6"/></g>
<g id="t52"><circle cx="631" cy="997" r="3.6"/><circle cx="661" cy="997" r="3.6"/><circle cx="685" cy="1014" r="3.6"/><circle cx="695" cy="986" r="3.6"/><circle cx="661" cy="1031" r="3.6"/><circle cx="695" cy="1043" r="3.6"/><circle cx="715" cy="1014" r="3.6"/><circle cx="730" cy="989" r="3.6"/><circle cx="730" cy="1040" r="3.6"/><circle cx="746" cy="1014" r="3.6"/><circle cx="761" cy="989" r="3.6"/><circle cx="761" cy="1040" r="3.6"/><circle cx="791" cy="1040" r="3.6"/></g>
<g id="t53"><circle cx="872" cy="1015" r="3.6"/><circle cx="882" cy="987" r="3.6"/><circle cx="849" cy="998" r="3.6"/><circle cx="849" cy="1032" r="3.6"/><circle cx="882" cy="1043" r="3.6"/><circle cx="903" cy="1015" r="3.6"/><circle cx="918" cy="989" r="3.6"/><circle cx="932" cy="964" r="3.6"/><circle cx="918" cy="1041" r="3.6"/><circle cx="932" cy="1066" r="3.6"/><circle cx="932" cy="1015" r="3.6"/><circle cx="947" cy="989" r="3.6"/><circle cx="947" cy="1040" r="3.6"/></g>
<g id="t54"><circle cx="1020" cy="999" r="3.6"/><circle cx="1050" cy="999" r="3.6"/><circle cx="1074" cy="1016" r="3.6"/><circle cx="1083" cy="988" r="3.6"/><circle cx="1050" cy="1033" r="3.6"/><circle cx="1083" cy="1044" r="3.6"/><circle cx="1104" cy="1016" r="3.6"/><circle cx="1119" cy="990" r="3.6"/><circle cx="1133" cy="964" r="3.6"/><circle cx="1119" cy="1042" r="3.6"/><circle cx="1135" cy="1016" r="3.6"/><circle cx="1149" cy="990" r="3.6"/><circle cx="1149" cy="1042" r="3.6"/></g>
<g id="t55"><circle cx="1208" cy="999" r="3.6"/><circle cx="1237" cy="999" r="3.6"/><circle cx="1261" cy="1017" r="3.6"/><circle cx="1208" cy="1034" r="3.6"/><circle cx="1237" cy="1034" r="3.6"/><circle cx="1272" cy="988" r="3.6"/><circle cx="1272" cy="1045" r="3.6"/><circle cx="1292" cy="1017" r="3.6"/><circle cx="1307" cy="991" r="3.6"/><circle cx="1307" cy="1043" r="3.6"/><circle cx="1322" cy="1017" r="3.6"/><circle cx="1336" cy="991" r="3.6"/><circle cx="1336" cy="1043" r="3.6"/></g>
<g id="t56"><circle cx="62" cy="1155" r="3.6"/><circle cx="62" cy="1125" r="3.6"/><circle cx="45" cy="1179" r="3.6"/><circle cx="79" cy="1179" r="3.6"/><circle cx="33" cy="1146" r="3.6"/><circle cx="28" cy="1116" r="3.6"/><circle cx="10" cy="1166" r="3.6"/><circle cx="91" cy="1146" r="3.6"/><circle cx="96" cy="1116" r="3.6"/><circle cx="113" cy="1167" r="3.6"/><circle cx="119" cy="1137" r="3.6"/><circle cx="147" cy="1128" r="3.6"/><circle cx="175" cy="1119" r="3.6"/></g>
<g id="t57"><circle cx="272" cy="1157" r="3.6"/><circle cx="272" cy="1127" r="3.6"/><circle cx="272" cy="1097" r="3.6"/><circle cx="272" cy="1067" r="3.6"/><circle cx="253" cy="1181" r="3.6"/><circle cx="289" cy="1181" r="3.6"/><circle cx="242" cy="1147" r="3.6"/><circle cx="237" cy="1118" r="3.6"/><circle cx="220" cy="1168" r="3.6"/><circle cx="301" cy="1147" r="3.6"/><circle cx="307" cy="1118" r="3.6"/><circle cx="329" cy="1138" r="3.6"/><circle cx="323" cy="1168" r="3.6"/></g>
<g id="t58"><circle cx="387" cy="1148" r="3.6"/><circle cx="415" cy="1157" r="3.6"/><circle cx="443" cy="1167" r="3.6"/><circle cx="465" cy="1148" r="3.6"/><circle cx="459" cy="1118" r="3.6"/><circle cx="494" cy="1157" r="3.6"/><circle cx="494" cy="1127" r="3.6"/><circle cx="477" cy="1181" r="3.6"/><circle cx="511" cy="1181" r="3.6"/><circle cx="523" cy="1147" r="3.6"/><circle cx="529" cy="1118" r="3.6"/><circle cx="551" cy="1139" r="3.6"/><circle cx="544" cy="1168" r="3.6"/></g>
<g id="t59"><circle cx="625" cy="1111" r="3.6"/><circle cx="653" cy="1119" r="3.6"/><circle cx="660" cy="1149" r="3.6"/><circle cx="609" cy="1159" r="3.6"/><circle cx="637" cy="1169" r="3.6"/><circle cx="688" cy="1158" r="3.6"/><circle cx="688" cy="1129" r="3.6"/><circle cx="670" cy="1183" r="3.6"/><circle cx="706" cy="1183" r="3.6"/><circle cx="718" cy="1149" r="3.6"/><circle cx="724" cy="1120" r="3.6"/><circle cx="746" cy="1141" r="3.6"/><circle cx="740" cy="1170" r="3.6"/></g>
<g id="t60"><circle cx="890" cy="1158" r="3.6"/><circle cx="890" cy="1128" r="3.6"/><circle cx="890" cy="1098" r="3.6"/><circle cx="872" cy="1183" r="3.6"/><circle cx="907" cy="1183" r="3.6"/><circle cx="862" cy="1149" r="3.6"/><circle cx="856" cy="1119" r="3.6"/><circle cx="839" cy="1169" r="3.6"/><circle cx="810" cy="1159" r="3.6"/><circle cx="919" cy="1149" r="3.6"/><circle cx="925" cy="1119" r="3.6"/><circle cx="947" cy="1140" r="3.6"/><circle cx="940" cy="1169" r="3.6"/></g>
<g id="t61"><circle cx="1081" cy="1158" r="3.6"/><circle cx="1081" cy="1129" r="3.6"/><circle cx="1063" cy="1183" r="3.6"/><circle cx="1098" cy="1183" r="3.6"/><circle cx="1051" cy="1149" r="3.6"/><circle cx="1045" cy="1120" r="3.6"/><circle cx="1030" cy="1169" r="3.6"/><circle cx="1001" cy="1159" r="3.6"/><circle cx="1109" cy="1149" r="3.6"/><circle cx="1115" cy="1120" r="3.6"/><circle cx="1131" cy="1169" r="3.6"/><circle cx="1138" cy="1140" r="3.6"/><circle cx="1166" cy="1131" r="3.6"/></g>
<g id="t62"><circle cx="1260" cy="1159" r="3.6"/><circle cx="1260" cy="1129" r="3.6"/><circle cx="1243" cy="1184" r="3.6"/><circle cx="1243" cy="1214" r="3.6"/><circle cx="1277" cy="1184" r="3.6"/><circle cx="1277" cy="1214" r="3.6"/><circle cx="1230" cy="1149" r="3.6"/><circle cx="1225" cy="1120" r="3.6"/><circle cx="1209" cy="1170" r="3.6"/><circle cx="1288" cy="1149" r="3.6"/><circle cx="1294" cy="1120" r="3.6"/><circle cx="1317" cy="1141" r="3.6"/><circle cx="1310" cy="1170" r="3.6"/></g>
<g id="t63"><circle cx="78" cy="1276" r="3.6"/><circle cx="78" cy="1245" r="3.6"/><circle cx="78" cy="1215" r="3.6"/><circle cx="61" cy="1300" r="3.6"/><circle cx="96" cy="1300" r="3.6"/><circle cx="50" cy="1266" r="3.6"/><circle cx="44" cy="1236" r="3.6"/><circle cx="28" cy="1286" r="3.6"/><circle cx="107" cy="1266" r="3.6"/><circle cx="113" cy="1236" r="3.6"/><circle cx="130" cy="1287" r="3.6"/><circle cx="136" cy="1257" r="3.6"/><circle cx="164" cy="1248" r="3.6"/></g>
<g id="t64"><circle cx="282" cy="1277" r="3.6"/><circle cx="282" cy="1247" r="3.6"/><circle cx="265" cy="1301" r="3.6"/><circle cx="300" cy="1301" r="3.6"/><circle cx="253" cy="1267" r="3.6"/><circle cx="248" cy="1238" r="3.6"/><circle cx="232" cy="1288" r="3.6"/><circle cx="311" cy="1267" r="3.6"/><circle cx="317" cy="1238" r="3.6"/><circle cx="345" cy="1229" r="3.6"/><circle cx="340" cy="1259" r="3.6"/><circle cx="367" cy="1249" r="3.6"/><circle cx="334" cy="1288" r="3.6"/></g>
<g id="t65"><circle cx="479" cy="1277" r="3.6"/><circle cx="488" cy="1248" r="3.6"/><circle cx="455" cy="1260" r="3.6"/><circle cx="455" cy="1295" r="3.6"/><circle cx="488" cy="1306" r="3.6"/><circle cx="509" cy="1277" r="3.6"/><circle cx="523" cy="1251" r="3.6"/><circle cx="539" cy="1277" r="3.6"/><circle cx="554" cy="1251" r="3.6"/><circle cx="554" cy="1303" r="3.6"/><circle cx="568" cy="1277" r="3.6"/><circle cx="598" cy="1277" r="3.6"/><circle cx="628" cy="1277" r="3.6"/></g>
<g id="t66"><circle cx="724" cy="1278" r="3.6"/><circle cx="734" cy="1250" r="3.6"/><circle cx="699" cy="1261" r="3.6"/><circle cx="699" cy="1296" r="3.6"/><circle cx="734" cy="1307" r="3.6"/><circle cx="754" cy="1278" r="3.6"/><circle cx="769" cy="1253" r="3.6"/><circle cx="784" cy="1227" r="3.6"/><circle cx="799" cy="1201" r="3.6"/><circle cx="785" cy="1278" r="3.6"/><circle cx="799" cy="1253" r="3.6"/><circle cx="814" cy="1278" r="3.6"/><circle cx="799" cy="1305" r="3.6"/></g>
<g id="t67"><circle cx="885" cy="1298" r="3.6"/><circle cx="915" cy="1298" r="3.6"/><circle cx="945" cy="1297" r="3.6"/><circle cx="968" cy="1279" r="3.6"/><circle cx="978" cy="1251" r="3.6"/><circle cx="945" cy="1262" r="3.6"/><circle cx="978" cy="1308" r="3.6"/><circle cx="998" cy="1279" r="3.6"/><circle cx="1014" cy="1253" r="3.6"/><circle cx="1029" cy="1279" r="3.6"/><circle cx="1044" cy="1253" r="3.6"/><circle cx="1059" cy="1279" r="3.6"/><circle cx="1044" cy="1306" r="3.6"/></g>
<g id="t68"><circle cx="1170" cy="1279" r="3.6"/><circle cx="1180" cy="1251" r="3.6"/><circle cx="1146" cy="1262" r="3.6"/><circle cx="1146" cy="1297" r="3.6"/><circle cx="1180" cy="1308" r="3.6"/><circle cx="1200" cy="1279" r="3.6"/><circle cx="1216" cy="1253" r="3.6"/><circle cx="1230" cy="1279" r="3.6"/><circle cx="1246" cy="1253" r="3.6"/><circle cx="1261" cy="1279" r="3.6"/><circle cx="1290" cy="1279" r="3.6"/><circle cx="1246" cy="1306" r="3.6"/><circle cx="1275" cy="1306" r="3.6"/></g>
<g id="t69"><circle cx="55" cy="1397" r="3.6"/><circle cx="65" cy="1368" r="3.6"/><circle cx="31" cy="1379" r="3.6"/><circle cx="31" cy="1414" r="3.6"/><circle cx="65" cy="1425" r="3.6"/><circle cx="85" cy="1397" r="3.6"/><circle cx="100" cy="1371" r="3.6"/><circle cx="116" cy="1345" r="3.6"/><circle cx="115" cy="1397" r="3.6"/><circle cx="131" cy="1371" r="3.6"/><circle cx="131" cy="1423" r="3.6"/><circle cx="146" cy="1397" r="3.6"/><circle cx="175" cy="1397" r="3.6"/></g>
<g id="t70"><circle cx="244" cy="1416" r="3.6"/><circle cx="274" cy="1416" r="3.6"/><circle cx="298" cy="1397" r="3.6"/><circle cx="308" cy="1369" r="3.6"/><circle cx="274" cy="1381" r="3.6"/><circle cx="308" cy="1426" r="3.6"/><circle cx="328" cy="1397" r="3.6"/><circle cx="343" cy="1372" r="3.6"/><circle cx="358" cy="1397" r="3.6"/><circle cx="373" cy="1372" r="3.6"/><circle cx="373" cy="1423" r="3.6"/><circle cx="388" cy="1397" r="3.6"/><circle cx="418" cy="1397" r="3.6"/></g>
<g id="t71"><circle cx="490" cy="1416" r="3.6"/><circle cx="520" cy="1416" r="3.6"/><circle cx="544" cy="1398" r="3.6"/><circle cx="554" cy="1369" r="3.6"/><circle cx="520" cy="1381" r="3.6"/><circle cx="554" cy="1427" r="3.6"/><circle cx="574" cy="1398" r="3.6"/><circle cx="589" cy="1372" r="3.6"/><circle cx="605" cy="1346" r="3.6"/><circle cx="605" cy="1398" r="3.6"/><circle cx="620" cy="1372" r="3.6"/><circle cx="635" cy="1398" r="3.6"/><circle cx="620" cy="1423" r="3.6"/></g>
<g id="t72"><circle cx="719" cy="1382" r="3.6"/><circle cx="748" cy="1382" r="3.6"/><circle cx="772" cy="1399" r="3.6"/><circle cx="719" cy="1417" r="3.6"/><circle cx="748" cy="1417" r="3.6"/><circle cx="783" cy="1371" r="3.6"/><circle cx="783" cy="1427" r="3.6"/><circle cx="802" cy="1399" r="3.6"/><circle cx="817" cy="1373" r="3.6"/><circle cx="832" cy="1399" r="3.6"/><circle cx="847" cy="1373" r="3.6"/><circle cx="862" cy="1399" r="3.6"/><circle cx="847" cy="1425" r="3.6"/></g>
<g id="t73"><circle cx="966" cy="1399" r="3.6"/><circle cx="977" cy="1371" r="3.6"/><circle cx="942" cy="1382" r="3.6"/><circle cx="942" cy="1417" r="3.6"/><circle cx="977" cy="1428" r="3.6"/><circle cx="997" cy="1399" r="3.6"/><circle cx="1012" cy="1373" r="3.6"/><circle cx="1012" cy="1425" r="3.6"/><circle cx="1027" cy="1399" r="3.6"/><circle cx="1042" cy="1373" r="3.6"/><circle cx="1041" cy="1425" r="3.6"/><circle cx="1072" cy="1425" r="3.6"/><circle cx="1027" cy="1450" r="3.6"/></g>
<g id="t74"><circle cx="1188" cy="1427" r="3.6"/><circle cx="1169" cy="1405" r="3.6"/><circle cx="1161" cy="1439" r="3.6"/><circle cx="1191" cy="1456" r="3.6"/><circle cx="1218" cy="1433" r="3.6"/><circle cx="1204" cy="1401" r="3.6"/><circle cx="1189" cy="1375" r="3.6"/><circle cx="1234" cy="1401" r="3.6"/><circle cx="1249" cy="1375" r="3.6"/><circle cx="1249" cy="1427" r="3.6"/><circle cx="1263" cy="1401" r="3.6"/><circle cx="1278" cy="1375" r="3.6"/><circle cx="1278" cy="1427" r="3.6"/></g>
<g id="t75"><circle cx="57" cy="1526" r="3.6"/><circle cx="67" cy="1497" r="3.6"/><circle cx="34" cy="1508" r="3.6"/><circle cx="34" cy="1543" r="3.6"/><circle cx="67" cy="1554" r="3.6"/><circle cx="88" cy="1526" r="3.6"/><circle cx="103" cy="1500" r="3.6"/><circle cx="103" cy="1551" r="3.6"/><circle cx="87" cy="1578" r="3.6"/><circle cx="133" cy="1551" r="3.6"/><circle cx="133" cy="1522" r="3.6"/><circle cx="133" cy="1582" r="3.6"/><circle cx="163" cy="1551" r="3.6"/></g>
<g id="t76"><circle cx="263" cy="1522" r="3.6"/><circle cx="265" cy="1492" r="3.6"/><circle cx="234" cy="1535" r="3.6"/><circle cx="286" cy="1540" r="3.6"/><circle cx="296" cy="1512" r="3.6"/><circle cx="263" cy="1557" r="3.6"/><circle cx="296" cy="1568" r="3.6"/><circle cx="316" cy="1540" r="3.6"/><circle cx="332" cy="1513" r="3.6"/><circle cx="332" cy="1566" r="3.6"/><circle cx="347" cy="1540" r="3.6"/><circle cx="362" cy="1513" r="3.6"/><circle cx="362" cy="1566" r="3.6"/></g>
<g id="t77"><circle cx="461" cy="1523" r="3.6"/><circle cx="464" cy="1493" r="3.6"/><circle cx="433" cy="1536" r="3.6"/><circle cx="484" cy="1541" r="3.6"/><circle cx="494" cy="1512" r="3.6"/><circle cx="461" cy="1559" r="3.6"/><circle cx="494" cy="1569" r="3.6"/><circle cx="514" cy="1541" r="3.6"/><circle cx="529" cy="1567" r="3.6"/><circle cx="529" cy="1516" r="3.6"/><circle cx="513" cy="1490" r="3.6"/><circle cx="543" cy="1490" r="3.6"/><circle cx="558" cy="1516" r="3.6"/></g>
<g id="t78"><circle cx="619" cy="1542" r="3.6"/><circle cx="647" cy="1552" r="3.6"/><circle cx="652" cy="1582" r="3.6"/><circle cx="669" cy="1532" r="3.6"/><circle cx="663" cy="1503" r="3.6"/><circle cx="698" cy="1541" r="3.6"/><circle cx="698" cy="1512" r="3.6"/><circle cx="680" cy="1566" r="3.6"/><circle cx="715" cy="1566" r="3.6"/><circle cx="727" cy="1532" r="3.6"/><circle cx="733" cy="1503" r="3.6"/><circle cx="755" cy="1523" r="3.6"/><circle cx="749" cy="1552" r="3.6"/></g>
<g id="t79"><circle cx="875" cy="1543" r="3.6"/><circle cx="875" cy="1513" r="3.6"/><circle cx="875" cy="1483" r="3.6"/><circle cx="849" cy="1498" r="3.6"/><circle cx="901" cy="1498" r="3.6"/><circle cx="846" cy="1533" r="3.6"/><circle cx="904" cy="1533" r="3.6"/><circle cx="858" cy="1567" r="3.6"/><circle cx="829" cy="1577" r="3.6"/><circle cx="858" cy="1597" r="3.6"/><circle cx="893" cy="1567" r="3.6"/><circle cx="922" cy="1577" r="3.6"/><circle cx="893" cy="1597" r="3.6"/></g>
<g id="t80"><circle cx="1018" cy="1543" r="3.6"/><circle cx="1028" cy="1514" r="3.6"/><circle cx="995" cy="1526" r="3.6"/><circle cx="995" cy="1560" r="3.6"/><circle cx="1028" cy="1572" r="3.6"/><circle cx="1049" cy="1543" r="3.6"/><circle cx="1064" cy="1569" r="3.6"/><circle cx="1064" cy="1518" r="3.6"/><circle cx="1050" cy="1492" r="3.6"/><circle cx="1079" cy="1492" r="3.6"/><circle cx="1079" cy="1543" r="3.6"/><circle cx="1094" cy="1518" r="3.6"/><circle cx="1094" cy="1569" r="3.6"/></g>
<g id="t81"><circle cx="1205" cy="1544" r="3.6"/><circle cx="1174" cy="1544" r="3.6"/><circle cx="1205" cy="1514" r="3.6"/><circle cx="1205" cy="1574" r="3.6"/><circle cx="1235" cy="1544" r="3.6"/><circle cx="1251" cy="1518" r="3.6"/><circle cx="1247" cy="1488" r="3.6"/><circle cx="1221" cy="1512" r="3.6"/><circle cx="1278" cy="1506" r="3.6"/><circle cx="1270" cy="1540" r="3.6"/><circle cx="1250" cy="1569" r="3.6"/><circle cx="1279" cy="1569" r="3.6"/><circle cx="1235" cy="1596" r="3.6"/></g>
<g id="t82"><circle cx="50" cy="1686" r="3.6"/><circle cx="60" cy="1657" r="3.6"/><circle cx="26" cy="1668" r="3.6"/><circle cx="26" cy="1703" r="3.6"/><circle cx="60" cy="1715" r="3.6"/><circle cx="79" cy="1686" r="3.6"/><circle cx="110" cy="1686" r="3.6"/><circle cx="110" cy="1655" r="3.6"/><circle cx="110" cy="1717" r="3.6"/><circle cx="141" cy="1686" r="3.6"/><circle cx="141" cy="1655" r="3.6"/><circle cx="141" cy="1717" r="3.6"/><circle cx="171" cy="1686" r="3.6"/></g>
<g id="t83"><circle cx="271" cy="1686" r="3.6"/><circle cx="281" cy="1657" r="3.6"/><circle cx="247" cy="1668" r="3.6"/><circle cx="247" cy="1704" r="3.6"/><circle cx="281" cy="1715" r="3.6"/><circle cx="301" cy="1686" r="3.6"/><circle cx="316" cy="1659" r="3.6"/><circle cx="316" cy="1713" r="3.6"/><circle cx="332" cy="1686" r="3.6"/><circle cx="362" cy="1686" r="3.6"/><circle cx="362" cy="1656" r="3.6"/><circle cx="362" cy="1717" r="3.6"/><circle cx="391" cy="1686" r="3.6"/></g>
<g id="t84"><circle cx="491" cy="1686" r="3.6"/><circle cx="501" cy="1657" r="3.6"/><circle cx="467" cy="1668" r="3.6"/><circle cx="467" cy="1704" r="3.6"/><circle cx="501" cy="1715" r="3.6"/><circle cx="521" cy="1686" r="3.6"/><circle cx="536" cy="1659" r="3.6"/><circle cx="536" cy="1713" r="3.6"/><circle cx="551" cy="1686" r="3.6"/><circle cx="566" cy="1659" r="3.6"/><circle cx="566" cy="1713" r="3.6"/><circle cx="581" cy="1686" r="3.6"/><circle cx="611" cy="1686" r="3.6"/></g>
<g id="t85"><circle cx="705" cy="1687" r="3.6"/><circle cx="714" cy="1657" r="3.6"/><circle cx="681" cy="1668" r="3.6"/><circle cx="681" cy="1704" r="3.6"/><circle cx="714" cy="1716" r="3.6"/><circle cx="735" cy="1687" r="3.6"/><circle cx="750" cy="1660" r="3.6"/><circle cx="765" cy="1633" r="3.6"/><circle cx="750" cy="1713" r="3.6"/><circle cx="765" cy="1687" r="3.6"/><circle cx="780" cy="1660" r="3.6"/><circle cx="795" cy="1687" r="3.6"/><circle cx="780" cy="1713" r="3.6"/></g>
<g id="t86"><circle cx="865" cy="1670" r="3.6"/><circle cx="896" cy="1670" r="3.6"/><circle cx="920" cy="1688" r="3.6"/><circle cx="929" cy="1659" r="3.6"/><circle cx="895" cy="1706" r="3.6"/><circle cx="929" cy="1717" r="3.6"/><circle cx="950" cy="1688" r="3.6"/><circle cx="964" cy="1662" r="3.6"/><circle cx="964" cy="1715" r="3.6"/><circle cx="979" cy="1688" r="3.6"/><circle cx="994" cy="1662" r="3.6"/><circle cx="1009" cy="1688" r="3.6"/><circle cx="994" cy="1715" r="3.6"/></g>
<g id="t87"><circle cx="1111" cy="1670" r="3.6"/><circle cx="1115" cy="1641" r="3.6"/><circle cx="1087" cy="1653" r="3.6"/><circle cx="1083" cy="1683" r="3.6"/><circle cx="1134" cy="1688" r="3.6"/><circle cx="1145" cy="1660" r="3.6"/><circle cx="1110" cy="1707" r="3.6"/><circle cx="1145" cy="1717" r="3.6"/><circle cx="1165" cy="1688" r="3.6"/><circle cx="1196" cy="1688" r="3.6"/><circle cx="1196" cy="1658" r="3.6"/><circle cx="1196" cy="1719" r="3.6"/><circle cx="1225" cy="1688" r="3.6"/></g>
</g>
</svg>
